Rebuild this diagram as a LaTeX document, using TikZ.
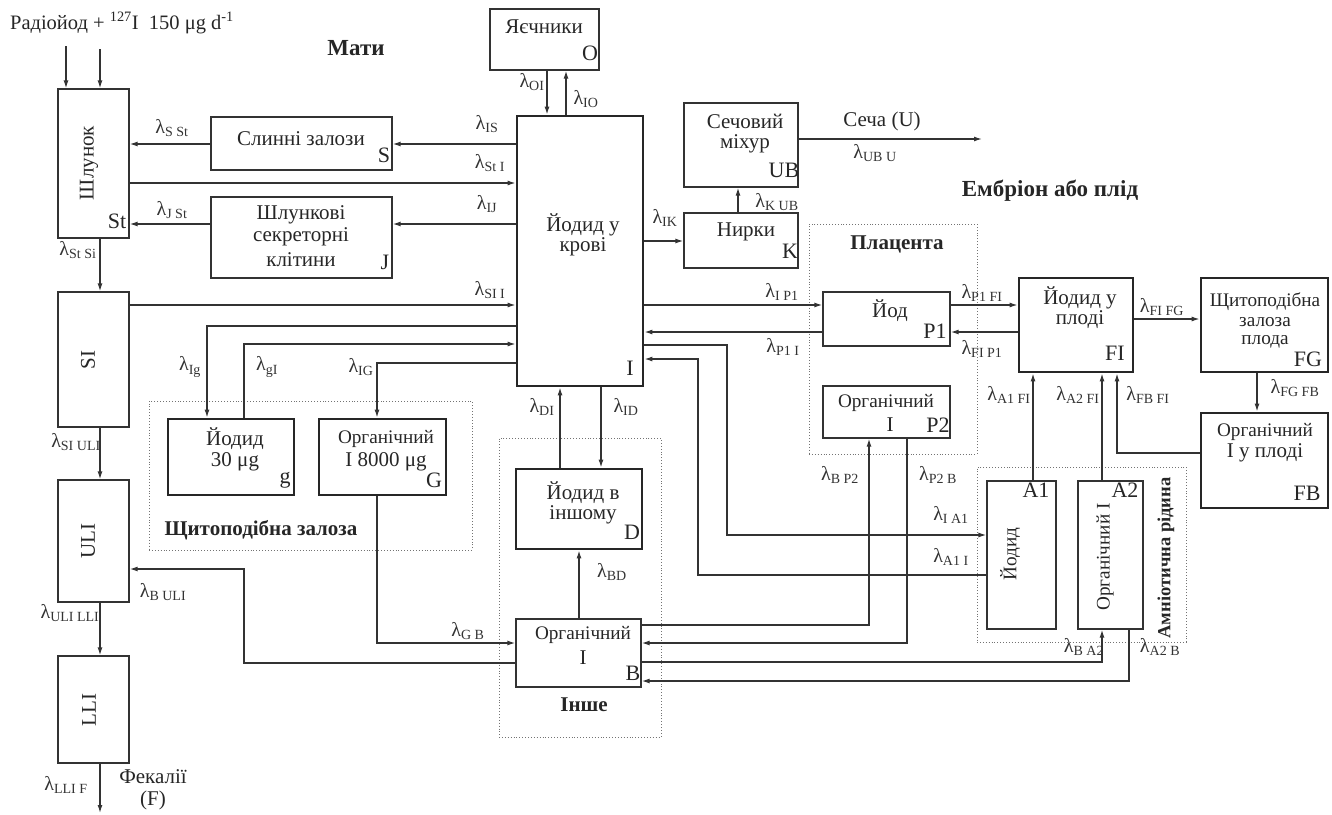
\documentclass[tikz,border=0pt]{standalone}
\usepackage{fontspec}
\setmainfont{Liberation Serif}
\usetikzlibrary{arrows.meta}
\newcommand{\lm}[1]{λ\textsubscript{#1}}
\begin{document}
\begin{tikzpicture}[x=1pt,y=-1pt,
  lc/.style={draw=black!80, line width=1.3pt},
  box/.style={lc, rectangle, inner sep=0pt},
  tbox/.style={draw=black!85, line width=2.8pt, rectangle, inner sep=0pt},
  grp/.style={draw=black!55, dotted, line width=0.9pt, rectangle, inner sep=0pt},
  arr/.style={lc, -{Latex[length=8pt,width=5pt]}},
  ln/.style={lc},
  txt/.style={font=\fontsize{21}{23}\selectfont, text=black!85, inner sep=0pt},
  txts/.style={font=\fontsize{19.2}{21}\selectfont, text=black!85, inner sep=0pt},
  lab/.style={font=\fontsize{20}{20}\selectfont, text=black!80, inner sep=0pt},
  corner/.style={font=\fontsize{22}{22}\selectfont, text=black!85, inner sep=0pt},
  ttl/.style={font=\bfseries\fontsize{21}{23}\selectfont, text=black!85, inner sep=0pt},
  bigttl/.style={font=\bfseries\fontsize{23}{25}\selectfont, text=black!85, inner sep=0pt},
]
\useasboundingbox (0,0) rectangle (1332,814);

% groups
\node[grp, minimum width=323pt, minimum height=149pt] (thy) at (310.5,475.5) {};
\node[grp, minimum width=162pt, minimum height=299pt] (oth) at (580,587.5) {};
\node[grp, minimum width=168pt, minimum height=230pt] (pla) at (893,339) {};
\node[grp, minimum width=209pt, minimum height=175pt] (amn) at (1081.5,554.5) {};

% boxes
\node[box, minimum width=71pt, minimum height=149pt] (St) at (93.5,163.5) {};
\node[box, minimum width=181pt, minimum height=53pt] (S) at (301.5,143.5) {};
\node[box, minimum width=181pt, minimum height=81pt] (J) at (301.5,237.5) {};
\node[box, minimum width=71pt, minimum height=135pt] (SI) at (93.5,359.5) {};
\node[box, minimum width=71pt, minimum height=122pt] (ULI) at (93.5,541) {};
\node[box, minimum width=71pt, minimum height=107pt] (LLI) at (93.5,709.5) {};
\node[box, minimum width=109pt, minimum height=61pt] (O) at (544.5,39.5) {};
\node[tbox, minimum width=126pt, minimum height=270pt] (I) at (580,251) {};
\node[box, minimum width=114pt, minimum height=84pt] (UB) at (741,145) {};
\node[box, minimum width=114pt, minimum height=55pt] (K) at (741,240.5) {};
\node[box, minimum width=127pt, minimum height=54pt] (P1) at (886.5,319) {};
\node[box, minimum width=127pt, minimum height=52pt] (P2) at (886.5,412) {};
\node[tbox, minimum width=114pt, minimum height=94pt] (FI) at (1076,325) {};
\node[tbox, minimum width=127pt, minimum height=94pt] (FG) at (1264.5,325) {};
\node[tbox, minimum width=127pt, minimum height=95pt] (FB) at (1264.5,460.5) {};
\node[box, minimum width=69pt, minimum height=148pt] (A1) at (1021.5,555) {};
\node[box, minimum width=65pt, minimum height=148pt] (A2) at (1110.5,555) {};
\node[tbox, minimum width=126pt, minimum height=76pt] (g) at (231,457) {};
\node[tbox, minimum width=127pt, minimum height=76pt] (G) at (382.5,457) {};
\node[tbox, minimum width=126pt, minimum height=80pt] (D) at (579,509) {};
\node[box, minimum width=125pt, minimum height=68pt] (B) at (578.5,653) {};

% box texts
\node[txt, rotate=90] (tSt) at (89,163) {Шлунок};
\node[txt, rotate=90] (tSI) at (88,360) {SI};
\node[txt, rotate=90] (tULI) at (88,541) {ULI};
\node[txt, rotate=90] (tLLI) at (89,710) {LLI};
\node[txt] (tS) at (301,139) {Слинні залози};
\node[txt] (tJ1) at (301,215) {Шлункові};
\node[txt] (tJ2) at (301,237) {секреторні};
\node[txt] (tJ3) at (301,260) {клітини};
\node[txt] (tO) at (544,27) {Яєчники};
\node[txt] (tI1) at (583,225) {Йодид у};
\node[txt] (tI2) at (583,247) {крові};
\node[txt] (tUB1) at (745,121) {Сечовий};
\node[txt] (tUB2) at (745,144) {міхур};
\node[txt] (tK) at (746,232) {Нирки};
\node[txt] (tP1) at (890,311) {Йод};
\node[txts] (tP2a) at (886,403) {Органічний};
\node[txt] (tP2b) at (890,425) {I};
\node[txt] (tFI1) at (1080,298) {Йодид у};
\node[txt] (tFI2) at (1080,320) {плоді};
\node[txts] (tFG1) at (1265,302) {Щитоподібна};
\node[txts] (tFG2) at (1265,322) {залоза};
\node[txts] (tFG3) at (1265,342) {плода};
\node[txts] (tFB1) at (1265,432) {Органічний};
\node[txt] (tFB2) at (1265,453) {I у плоді};
\node[txt] (tg1) at (235,439) {Йодид};
\node[txt] (tg2) at (235,462) {30 μg};
\node[txts] (tG1) at (386,439) {Органічний};
\node[txt] (tG2) at (386,462) {I 8000 μg};
\node[txt] (tD1) at (583,493) {Йодид в};
\node[txt] (tD2) at (583,515) {іншому};
\node[txts] (tB1) at (583,635) {Органічний};
\node[txt] (tB2) at (583,658) {I};
\node[txts, rotate=90] (tA1) at (1010,554) {Йодид};
\node[txts, rotate=90] (tA2) at (1105,557) {Органічний I};

% corner labels
\node[corner] (cSt) at (117,221) {St};
\node[corner] (cS) at (384,155) {S};
\node[corner] (cJ) at (385,262) {J};
\node[corner] (cO) at (590,53) {O};
\node[corner] (cI) at (630,368) {I};
\node[corner] (cUB) at (784,170) {UB};
\node[corner] (cK) at (790,251) {K};
\node[corner] (cP1) at (935,331) {P1};
\node[corner] (cP2) at (938,425) {P2};
\node[corner] (cFI) at (1115,353) {FI};
\node[corner] (cFG) at (1308,359) {FG};
\node[corner] (cFB) at (1307,493) {FB};
\node[corner] (cA1) at (1036,490) {A1};
\node[corner] (cA2) at (1125,490) {A2};
\node[corner] (cg) at (285,480) {g};
\node[corner] (cG) at (434,480) {G};
\node[corner] (cD) at (632,532) {D};
\node[corner] (cB) at (633,673) {B};

% titles
\node[txt, font=\fontsize{20.5}{22}\selectfont] (title) at (122,23) {Радіойод + \textsuperscript{127}I\ \ 150 μg d\textsuperscript{-1}};
\node[bigttl] (tM) at (356,48) {Мати};
\node[bigttl] (tE) at (1050,191) {Ембріон або плід};
\node[ttl] (tPl) at (897,244) {Плацента};
\node[ttl] (tThy) at (261,530) {Щитоподібна залоза};
\node[ttl] (tOth) at (584,705) {Інше};
\node[ttl, font=\bfseries\fontsize{18.5}{20}\selectfont, rotate=90] (tAmn) at (1166,558) {Амніотична рідина};
\node[txt] (tU) at (882,121) {Сеча (U)};
\node[txt] (tF1) at (153,777) {Фекалії};
\node[txt] (tF2) at (153,800) {(F)};

% free ends
\coordinate (in1) at (66,46);
\coordinate (in2) at (100,49);
\coordinate (fout) at (100,813);
\coordinate (uout) at (982,139);

% connectors
\draw[arr] (in1) -- (in1 |- St.north);
\draw[arr] (in2) -- (in2 |- St.north);
\draw[arr] (S.west |- 0,144) -- (St.east |- 0,144);
\draw[arr] (I.west |- 0,144) -- (S.east |- 0,144);
\draw[arr] (St.east |- 0,183) -- (I.west |- 0,183);
\draw[arr] (J.west |- 0,224) -- (St.east |- 0,224);
\draw[arr] (I.west |- 0,224) -- (J.east |- 0,224);
\draw[arr] (St.south -| 100,0) -- (SI.north -| 100,0);
\draw[arr] (SI.east |- 0,305) -- (I.west |- 0,305);
\draw[arr] (I.west |- 0,326) -| (g.north -| 207,0);
\draw[arr] (g.north -| 244,0) |- (I.west |- 0,344);
\draw[arr] (I.west |- 0,363) -| (G.north -| 377,0);
\draw[arr] (G.south -| 377,0) |- (B.west |- 0,643);
\draw[arr] (SI.south -| 100,0) -- (ULI.north -| 100,0);
\draw[arr] (ULI.south -| 100,0) -- (LLI.north -| 100,0);
\draw[arr] (LLI.south -| fout) -- (fout);
\draw[arr] (B.west |- 0,663) -- (244,663) -- (244,569) -- (ULI.east |- 0,569);
\draw[arr] (O.south -| 547,0) -- (I.north -| 547,0);
\draw[arr] (I.north -| 566,0) -- (O.south -| 566,0);
\draw[arr] (I.east |- 0,241) -- (K.west |- 0,241);
\draw[arr] (K.north -| 738,0) -- (UB.south -| 738,0);
\draw[arr] (UB.east |- uout) -- (uout);
\draw[arr] (I.east |- 0,305) -- (P1.west |- 0,305);
\draw[arr] (P1.west |- 0,332) -- (I.east |- 0,332);
\draw[arr] (P1.east |- 0,305) -- (FI.west |- 0,305);
\draw[arr] (FI.west |- 0,332) -- (P1.east |- 0,332);
\draw[arr] (FI.east |- 0,319) -- (FG.west |- 0,319);
\draw[arr] (FG.south -| 1257,0) -- (FB.north -| 1257,0);
\draw[arr] (FB.west |- 0,453) -| (FI.south -| 1117,0);
\draw[arr] (A1.north -| 1033,0) -- (FI.south -| 1033,0);
\draw[arr] (A2.north -| 1102,0) -- (FI.south -| 1102,0);
\draw[arr] (I.east |- 0,345) -- (727,345) |- (A1.west |- 0,535);
\draw[arr] (A1.west |- 0,575) -- (698,575) |- (I.east |- 0,359);
\draw[arr] (D.north -| 560,0) -- (I.south -| 560,0);
\draw[arr] (I.south -| 601,0) -- (D.north -| 601,0);
\draw[arr] (B.north -| 579,0) -- (D.south -| 579,0);
\draw[arr] (B.east |- 0,625) -| (P2.south -| 869,0);
\draw[arr] (P2.south -| 907,0) |- (B.east |- 0,643);
\draw[arr] (B.east |- 0,662) -| (A2.south -| 1102,0);
\draw[arr] (A2.south -| 1129,0) |- (B.east |- 0,681);

% lambda labels
\node[lab] (l1) at (172,128) {\lm{S St}};
\node[lab] (l2) at (487,124) {\lm{IS}};
\node[lab] (l3) at (490,163) {\lm{St I}};
\node[lab] (l4) at (172,210) {\lm{J St}};
\node[lab] (l5) at (487,204) {\lm{IJ}};
\node[lab] (l6) at (78,250) {\lm{St Si}};
\node[lab] (l7) at (490,290) {\lm{SI I}};
\node[lab] (l8) at (190,367) {\lm{Ig}};
\node[lab] (l9) at (267,367) {\lm{gI}};
\node[lab] (l10) at (361,367) {\lm{IG}};
\node[lab] (l11) at (76,442) {\lm{SI ULI}};
\node[lab] (l12) at (70,613) {\lm{ULI LLI}};
\node[lab] (l13) at (66,785) {\lm{LLI F}};
\node[lab] (l14) at (163,592) {\lm{B ULI}};
\node[lab] (l15) at (468,631) {\lm{G B}};
\node[lab] (l16) at (612,572) {\lm{BD}};
\node[lab] (l17) at (532,82) {\lm{OI}};
\node[lab] (l18) at (586,99) {\lm{IO}};
\node[lab] (l19) at (875,153) {\lm{UB U}};
\node[lab] (l20) at (777,202) {\lm{K UB}};
\node[lab] (l21) at (665,218) {\lm{IK}};
\node[lab] (l22) at (782,292) {\lm{I P1}};
\node[lab] (l23) at (783,347) {\lm{P1 I}};
\node[lab] (l24) at (982,293) {\lm{P1 FI}};
\node[lab] (l25) at (982,349) {\lm{FI P1}};
\node[lab] (l26) at (1162,307) {\lm{FI FG}};
\node[lab] (l27) at (1295,388) {\lm{FG FB}};
\node[lab] (l28) at (1009,395) {\lm{A1 FI}};
\node[lab] (l29) at (1078,395) {\lm{A2 FI}};
\node[lab] (l30) at (1148,395) {\lm{FB FI}};
\node[lab] (l31) at (840,475) {\lm{B P2}};
\node[lab] (l32) at (938,475) {\lm{P2 B}};
\node[lab] (l33) at (951,515) {\lm{I A1}};
\node[lab] (l34) at (951,557) {\lm{A1 I}};
\node[lab] (l35) at (542,407) {\lm{DI}};
\node[lab] (l36) at (626,407) {\lm{ID}};
\node[lab] (l37) at (1084,647) {\lm{B A2}};
\node[lab] (l38) at (1160,647) {\lm{A2 B}};
\end{tikzpicture}
\end{document}
